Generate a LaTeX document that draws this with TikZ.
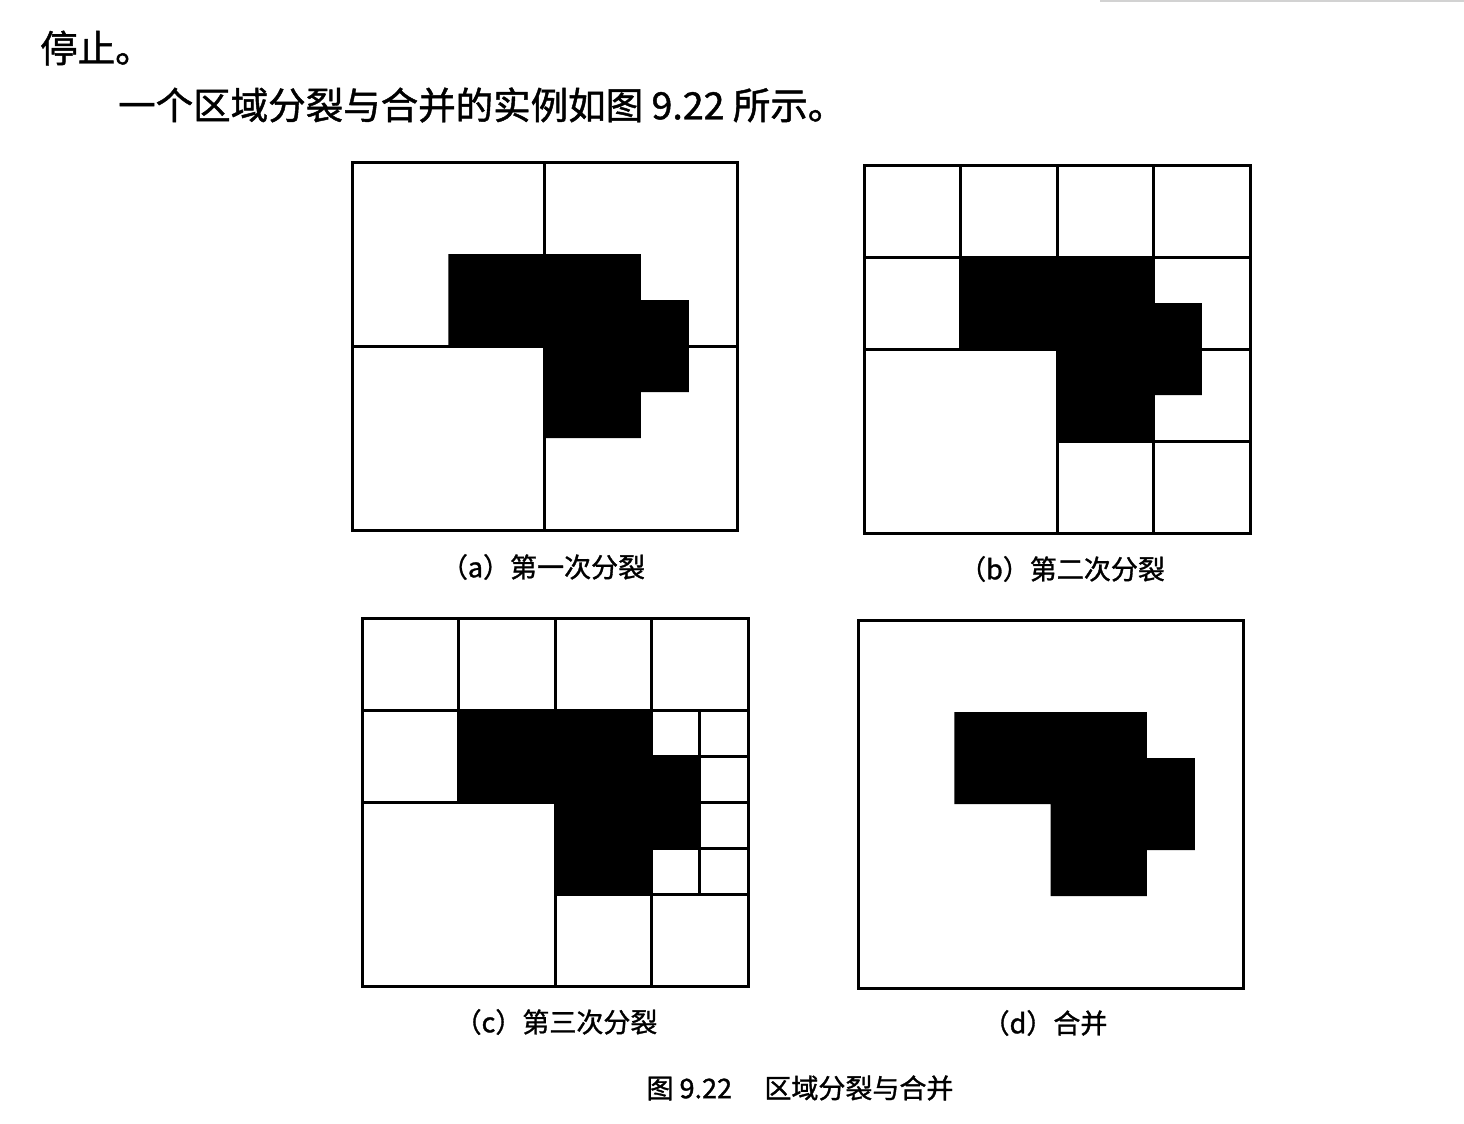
\documentclass[tikz,border=0pt]{standalone}
\usepackage{fontspec}
\setmainfont{Noto Sans CJK SC}[FakeBold=1.2]
\tikzset{
  cell/.style={line width=3pt},
  subcap/.style={inner sep=0pt,font=\fontsize{27}{30}\selectfont},
  bodytext/.style={inner sep=0pt,anchor=west,font=\fontsize{37.5}{40}\selectfont},
}
\begin{document}
\begin{tikzpicture}[x=1pt,y=-1pt]
    \useasboundingbox (0,0) rectangle (1464,1124);
    \fill[white] (0,0) rectangle (1464,1124);
    \draw[gray!35,line width=2pt] (1100,1) -- (1464,1);

    \node[bodytext] (stop) at (40,48) {停止。};
    \node[bodytext] (intro) at (118,105) {一个区域分裂与合并的实例如图 9.22 所示。};

    % (a) first split
    \begin{scope}[shift={(352,162)},x=48.125pt,y=-46pt]
    \fill (2,2) -- (6,2) -- (6,3) -- (7,3) -- (7,5) -- (6,5) -- (6,6) -- (4,6) -- (4,4) -- (2,4) -- cycle;
    \draw[cell] (4,0) -- (4,8) (0,4) -- (8,4);
    \draw[cell] (0,0) rectangle (8,8);
    \end{scope}
    \node[subcap] (capa) at (543,567) {（a）第一次分裂};

    % (b) second split
    \begin{scope}[shift={(864,165)},x=48.25pt,y=-46pt]
    \fill (2,2) -- (6,2) -- (6,3) -- (7,3) -- (7,5) -- (6,5) -- (6,6) -- (4,6) -- (4,4) -- (2,4) -- cycle;
    \draw[cell] (2,0) -- (2,4) (4,0) -- (4,8) (6,0) -- (6,8);
    \draw[cell] (0,2) -- (8,2) (0,4) -- (8,4) (4,6) -- (8,6);
    \draw[cell] (0,0) rectangle (8,8);
    \end{scope}
    \node[subcap] (capb) at (1062,569) {（b）第二次分裂};

    % (c) third split
    \begin{scope}[shift={(362,618)},x=48.25pt,y=-46pt]
    \fill (2,2) -- (6,2) -- (6,3) -- (7,3) -- (7,5) -- (6,5) -- (6,6) -- (4,6) -- (4,4) -- (2,4) -- cycle;
    \draw[cell] (2,0) -- (2,4) (4,0) -- (4,8) (6,0) -- (6,8);
    \draw[cell] (0,2) -- (8,2) (0,4) -- (8,4) (4,6) -- (8,6);
    \draw[cell] (7,2) -- (7,6) (6,3) -- (8,3) (6,5) -- (8,5);
    \draw[cell] (0,0) rectangle (8,8);
    \end{scope}
    \node[subcap] (capc) at (556,1022) {（c）第三次分裂};

    % (d) merge
    \begin{scope}[shift={(858,620)},x=48.125pt,y=-46pt]
    \fill (2,2) -- (6,2) -- (6,3) -- (7,3) -- (7,5) -- (6,5) -- (6,6) -- (4,6) -- (4,4) -- (2,4) -- cycle;
    \draw[cell] (0,0) rectangle (8,8);
    \end{scope}
    \node[subcap] (capd) at (1045,1023) {（d）合并};

    \node[subcap] (figcap) at (800,1088) {图 9.22\hspace{1.2em}区域分裂与合并};
\end{tikzpicture}
\end{document}
